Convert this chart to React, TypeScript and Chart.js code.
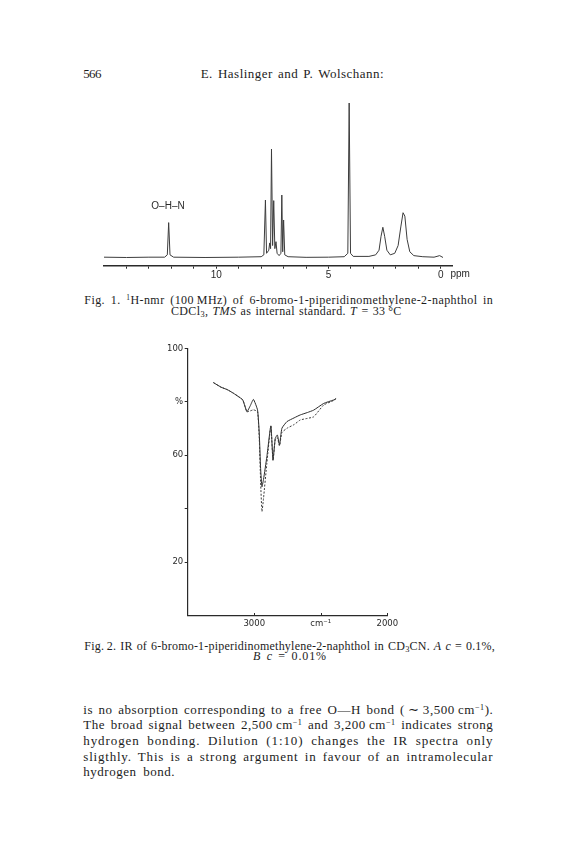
import React, { useEffect, useLayoutEffect, useRef } from "react";
import { Chart, registerables } from "chart.js";

Chart.register(...registerables);

// ---------- NMR spectrum (Fig. 1) ----------
const nmrPpm = [15.0, 14.0, 13.0, 12.3, 12.18, 12.12, 12.06, 11.9, 10.5, 9.0, 8.0, 7.88, 7.81, 7.76, 7.66, 7.62, 7.58, 7.54, 7.49, 7.44, 7.39, 7.34, 7.29, 7.2, 7.12, 7.08, 7.04, 7.0, 6.95, 6.8, 6.0, 5.0, 4.3, 4.14, 4.08, 4.02, 3.9, 3.2, 2.9, 2.75, 2.66, 2.58, 2.5, 2.4, 2.25, 2.05, 1.9, 1.78, 1.68, 1.6, 1.5, 1.38, 1.2, 0.8, 0.3, 0.05, -0.1];
const nmrIntensity = [0.5, 0.3, 0.5, 0.5, 2, 22.8, 2, 0.5, 0.3, 0.5, 0.8, 2, 37.4, 3, 5, 9.7, 6, 70.3, 8, 37, 6, 10.5, 3, 1.5, 3, 40.6, 4, 24.5, 2, 0.8, 0.4, 0.5, 0.8, 3, 100, 3, 1, 1, 2, 5, 14, 19.8, 14, 5, 2, 3, 8, 20, 29.2, 27, 12, 4, 1.5, 0.8, 0.5, 1.5, 0.3];
const nmrTickValues = [0, 1, 2, 3, 4, 5, 6, 7, 8, 9, 10, 11, 12, 13, 14];
const nmrLabelledTicks = [0, 5, 10];
const nmrUnit = "ppm";
const ohnLabel = "O\u2013H\u2013N";
const ohnPpm = 12.15;
const ohnLevel = 33.5;

// ---------- IR spectrum (Fig. 2) ----------
const irWavenumber = [3307, 3250, 3200, 3156, 3120, 3086, 3055, 3030, 3006, 2975, 2962, 2952, 2942, 2930, 2905, 2875, 2859, 2842, 2826, 2810, 2792, 2754, 2700, 2654, 2600, 2553, 2478, 2403, 2385];
const irSeriesA = [87.2, 85.5, 84.5, 83.2, 82, 80.7, 76.3, 78.5, 80.9, 76.9, 68, 55, 48.2, 51, 59.5, 71, 58.2, 66.3, 67.6, 63.8, 70.1, 72.6, 74, 75.1, 76, 76.9, 79.4, 80.7, 81.2];
const irSeriesB = [87.2, 85.5, 84.5, 83.2, 82, 80.7, 76.3, 76.6, 77, 76.3, 66, 50, 38.9, 44, 57, 71, 58, 66, 66.5, 63.5, 68.5, 70.1, 71.5, 73.2, 73.8, 74.4, 78.8, 80.5, 81.2];
const irXTicks = [3000, 2500, 2000];
const irXLabels = ["3000", "cm\u207B\u00B9", "2000"];
const irYTicks = [20, 40, 60, 80, 100];
const irYLabels = ["20", "", "60", "%", "100"];

const INK = "#2a2a2a";
const narrowFont = "'Liberation Sans Narrow', 'Liberation Sans', Arial, sans-serif";
const labelFont = "'DejaVu Sans', sans-serif";

const nmrExtras = {
  id: "nmrExtras",
  afterDraw(chart: any) {
    const { ctx, chartArea } = chart;
    const x = chart.scales.x;
    const y = chart.scales.y;
    ctx.save();
    ctx.fillStyle = INK;
    ctx.font = `10px ${narrowFont}`;
    ctx.textAlign = "center";
    ctx.textBaseline = "middle";
    ctx.fillText(ohnLabel, x.getPixelForValue(ohnPpm), y.getPixelForValue(ohnLevel));
    ctx.textAlign = "left";
    ctx.fillText(nmrUnit, chartArea.right - 1.5, chartArea.bottom + 9);
    ctx.restore();
  },
};

const irInnerTicks = {
  id: "irInnerTicks",
  afterDraw(chart: any) {
    const { ctx, chartArea } = chart;
    const x = chart.scales.x;
    ctx.save();
    ctx.strokeStyle = INK;
    ctx.lineWidth = 1;
    irXTicks.forEach((v) => {
      const px = Math.round(x.getPixelForValue(v)) + 0.5;
      ctx.beginPath();
      ctx.moveTo(px, chartArea.bottom);
      ctx.lineTo(px, chartArea.bottom - 2.5);
      ctx.stroke();
    });
    ctx.restore();
  },
};

function nmrConfig(): any {
  return {
    type: "line",
    data: {
      datasets: [
        {
          data: nmrPpm.map((p, i) => ({ x: p, y: nmrIntensity[i] })),
          borderColor: "#3c3c3c",
          borderWidth: 1,
          pointRadius: 0,
          tension: 0,
          fill: false,
          clip: false,
        },
      ],
    },
    options: {
      responsive: false,
      animation: false,
      layout: { padding: { left: 14, right: 38, top: 8, bottom: 0 } },
      plugins: { legend: { display: false }, tooltip: { enabled: false } },
      scales: {
        x: {
          type: "linear",
          reverse: true,
          min: -0.5,
          max: 15,
          afterBuildTicks: (s: any) => {
            s.ticks = nmrTickValues.map((v) => ({ value: v }));
          },
          afterFit: (s: any) => {
            s.height = 24.3;
          },
          grid: { display: true, drawOnChartArea: false, drawTicks: true, tickLength: 3, color: INK, lineWidth: 1 },
          border: { display: true, color: INK, width: 1.5 },
          ticks: {
            autoSkip: false,
            maxRotation: 0,
            padding: 1,
            color: INK,
            font: { family: narrowFont, size: 10 },
            callback: (v: number) => (nmrLabelledTicks.includes(v) ? String(v) : ""),
          },
        },
        y: { display: false, min: -5, max: 100 },
      },
    },
    plugins: [nmrExtras],
  };
}

function irConfig(): any {
  return {
    type: "line",
    data: {
      datasets: [
        {
          label: "B",
          data: irWavenumber.map((w, i) => ({ x: w, y: irSeriesB[i] })),
          borderColor: "#3a3a3a",
          borderWidth: 1,
          borderDash: [2, 1.6],
          pointRadius: 0,
          tension: 0.15,
          fill: false,
        },
        {
          label: "A",
          data: irWavenumber.map((w, i) => ({ x: w, y: irSeriesA[i] })),
          borderColor: "#2a2a2a",
          borderWidth: 1,
          pointRadius: 0,
          tension: 0.15,
          fill: false,
        },
      ],
    },
    options: {
      responsive: false,
      animation: false,
      layout: { padding: { left: 0, right: 22.7, top: 13.4, bottom: 0 } },
      plugins: { legend: { display: false }, tooltip: { enabled: false } },
      scales: {
        x: {
          type: "linear",
          reverse: true,
          min: 2000,
          max: 3500,
          afterBuildTicks: (s: any) => {
            s.ticks = irXTicks.map((v) => ({ value: v }));
          },
          afterFit: (s: any) => {
            s.height = 19.5;
          },
          grid: { display: true, drawOnChartArea: false, drawTicks: false },
          border: { display: true, color: INK, width: 1.2 },
          ticks: {
            autoSkip: false,
            maxRotation: 0,
            padding: 3.5,
            color: INK,
            font: { family: labelFont, size: 8.5 },
            callback: (v: number) => irXLabels[irXTicks.indexOf(v)] ?? "",
          },
        },
        y: {
          min: 0,
          max: 100,
          afterBuildTicks: (s: any) => {
            s.ticks = irYTicks.map((v) => ({ value: v }));
          },
          afterFit: (s: any) => {
            s.width = 37.7;
          },
          grid: { display: true, drawOnChartArea: false, drawTicks: true, tickLength: 3, color: INK, lineWidth: 1 },
          border: { display: true, color: INK, width: 1.2 },
          ticks: {
            autoSkip: false,
            padding: 1.5,
            color: INK,
            font: { family: labelFont, size: 8.5 },
            callback: (v: number) => irYLabels[irYTicks.indexOf(v)] ?? "",
          },
        },
      },
    },
    plugins: [irInnerTicks],
  };
}

// ---------- text helpers ----------
type LineProps = {
  x: number;
  y: number;
  w?: number;
  size: number;
  lh: number;
  justify?: boolean;
  children: React.ReactNode;
};

function Line({ x, y, w, size, lh, justify, children }: LineProps) {
  const ref = useRef<HTMLSpanElement>(null);
  useLayoutEffect(() => {
    const fit = () => {
      const el = ref.current;
      if (!el || !justify || !w) return;
      el.style.wordSpacing = "0px";
      el.style.letterSpacing = "0px";
      const text = el.textContent || "";
      const spaces = text.split(" ").length - 1;
      const natural = el.getBoundingClientRect().width;
      const extra = w - natural;
      // Spread most of the slack over the letters (wider face), the rest over word gaps.
      const ls = spaces > 0 ? Math.max(-0.3, Math.min(0.9, (extra * 0.7) / text.length)) : extra / Math.max(1, text.length);
      el.style.letterSpacing = `${ls}px`;
      const after = el.getBoundingClientRect().width;
      if (spaces > 0) el.style.wordSpacing = `${(w - after) / spaces}px`;
    };
    fit();
    if ((document as any).fonts) (document as any).fonts.ready.then(fit);
  }, [w, justify]);
  return (
    <div
      style={{
        position: "absolute",
        left: x,
        top: y - lh / 2,
        width: (w || 0) + 20,
        height: lh,
        lineHeight: `${lh}px`,
        fontSize: size,
        whiteSpace: "nowrap",
      }}
    >
      <span ref={ref}>{children}</span>
    </div>
  );
}

const Sup = ({ children }: { children: React.ReactNode }) => (
  <span style={{ fontSize: "0.62em", verticalAlign: "0.5em", lineHeight: 0 }}>{children}</span>
);
const Sub = ({ children }: { children: React.ReactNode }) => (
  <span style={{ fontSize: "0.7em", verticalAlign: "-0.25em", lineHeight: 0 }}>{children}</span>
);
const I = ({ children }: { children: React.ReactNode }) => <i>{children}</i>;

export default function App() {
  const nmrRef = useRef<HTMLCanvasElement>(null);
  const irRef = useRef<HTMLCanvasElement>(null);

  useEffect(() => {
    const c1 = new Chart(nmrRef.current as HTMLCanvasElement, nmrConfig());
    const c2 = new Chart(irRef.current as HTMLCanvasElement, irConfig());
    return () => {
      c1.destroy();
      c2.destroy();
    };
  }, []);

  const serif = "'Liberation Serif', 'Times New Roman', serif";
  const P = 13;
  const PL = 15.4;
  const C = 12;
  const CL = 11;

  return (
    <div
      style={{
        position: "absolute",
        left: 0,
        top: 0,
        width: 576,
        height: 864,
        background: "#fff",
        overflow: "hidden",
        fontFamily: serif,
        color: "#1c1c1c",
      }}
    >
      {/* running head */}
      <Line x={83.3} y={73.3} w={17.4} size={P} lh={PL} justify>566</Line>
      <Line x={200.7} y={73.3} w={183.3} size={P} lh={PL} justify>
        E. Haslinger and P. Wolschann:
      </Line>

      {/* Fig. 1 */}
      <canvas
        ref={nmrRef}
        width={400}
        height={195}
        style={{ position: "absolute", left: 90, top: 95, width: 400, height: 195, display: "block" }}
      />
      <Line x={84.3} y={300.7} w={409} size={C} lh={CL} justify>
        Fig. 1. <Sup>1</Sup>H-nmr (100{"\u2009"}MHz) of 6-bromo-1-piperidinomethylene-2-naphthol in
      </Line>
      <Line x={171} y={311.7} w={230.7} size={C} lh={CL} justify>
        CDCl<Sub>3</Sub>, <I>TMS</I> as internal standard. <I>T</I> = 33{"\u2009"}°C
      </Line>

      {/* Fig. 2 */}
      <canvas
        ref={irRef}
        width={260}
        height={300}
        style={{ position: "absolute", left: 150, top: 335, width: 260, height: 300, display: "block" }}
      />
      <Line x={84.3} y={646.7} w={410.7} size={C} lh={CL} justify>
        Fig.{"\u2009"}2. IR of 6-bromo-1-piperidinomethylene-2-naphthol in CD<Sub>3</Sub>CN. <I>A</I> <I>c</I> = 0.1%,
      </Line>
      <Line x={253} y={656.7} w={74} size={C} lh={CL} justify>
        <I>B</I> <I>c</I> = 0.01%
      </Line>

      {/* body text */}
      <Line x={83.3} y={710} w={410} size={P} lh={PL} justify>
        is no absorption corresponding to a free O—H bond ({"\u2009"}∼{"\u2009"}3,500{"\u2009"}cm<Sup>−1</Sup>).
      </Line>
      <Line x={83.3} y={725} w={410} size={P} lh={PL} justify>
        The broad signal between 2,500{"\u2009"}cm<Sup>−1</Sup> and 3,200{"\u2009"}cm<Sup>−1</Sup> indicates strong
      </Line>
      <Line x={83.3} y={741} w={410} size={P} lh={PL} justify>
        hydrogen bonding. Dilution (1:10) changes the IR spectra only
      </Line>
      <Line x={83.3} y={756.7} w={410} size={P} lh={PL} justify>
        sligthly. This is a strong argument in favour of an intramolecular
      </Line>
      <Line x={83.3} y={771.7} w={91.7} size={P} lh={PL} justify>
        hydrogen bond.
      </Line>
    </div>
  );
}
